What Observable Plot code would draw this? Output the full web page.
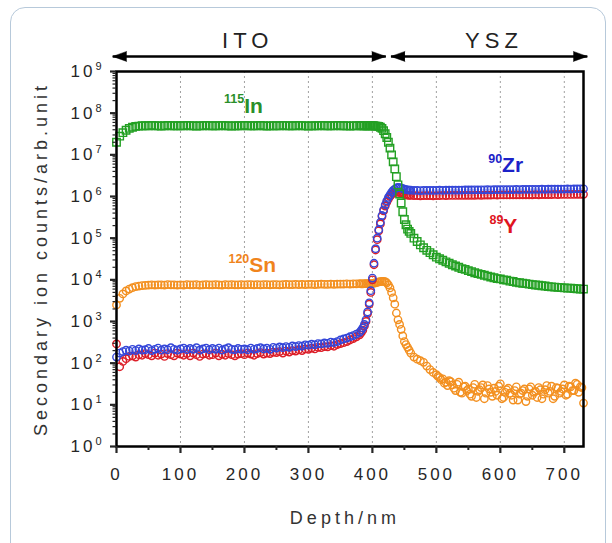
<!DOCTYPE html>
<html><head><meta charset="utf-8">
<script src="https://cdn.jsdelivr.net/npm/d3@7"></script>
<script src="https://cdn.jsdelivr.net/npm/@observablehq/plot@0.6"></script>
<style>
html,body{margin:0;padding:0;background:#fff;}
#wrap{position:relative;width:612px;height:543px;overflow:hidden;background:#fff;}
#border{position:absolute;left:10px;top:7px;width:596px;height:560px;border:1.5px solid #b7c9da;border-radius:15px;box-sizing:border-box;}
#chart{position:absolute;left:0;top:0;}
#chart svg text{letter-spacing:3px;}
</style></head><body>
<div id="wrap"><div id="border"></div><div id="chart"></div></div>
<script>
// ---- data ----
const depth = [
  0,5,10,15,20,25,30,35,40,45,
  50,55,60,65,70,75,80,85,90,95,
  100,105,110,115,120,125,130,135,140,145,
  150,155,160,165,170,175,180,185,190,195,
  200,205,210,215,220,225,230,235,240,245,
  250,255,260,265,270,275,280,285,290,295,
  300,305,310,315,320,325,330,335,340,345,
  350,355,360,365,370,375,
  380,382.5,385,387.5,390,392.5,395,397.5,400,402.5,
  405,407.5,410,412.5,415,417.5,420,422.5,425,427.5,
  430,432.5,435,437.5,440,442.5,445,447.5,450,452.5,
  455,457.5,460,
  465,470,475,480,485,490,495,
  500,505,510,515,520,525,530,535,540,545,
  550,555,560,565,570,575,580,585,590,595,
  600,605,610,615,620,625,630,635,640,645,
  650,655,660,665,670,675,680,685,690,695,
  700,705,710,715,720,725,730
];
const in115 = [
  2.0e7,2.8e7,3.4e7,3.9e7,4.3e7,4.6e7,4.8e7,4.9e7,5.0e7,5.0e7,
  5.0e7,5.1e7,5.0e7,5.0e7,4.9e7,5.0e7,5.1e7,5.0e7,5.0e7,5.0e7,
  5.0e7,5.0e7,5.1e7,5.0e7,5.0e7,4.9e7,5.0e7,5.0e7,5.1e7,5.0e7,
  5.0e7,5.0e7,5.0e7,5.1e7,5.0e7,5.0e7,4.9e7,5.0e7,5.0e7,5.0e7,
  5.1e7,5.0e7,5.0e7,5.0e7,5.0e7,5.1e7,5.0e7,4.9e7,5.0e7,5.0e7,
  5.0e7,5.0e7,5.1e7,5.0e7,5.0e7,5.0e7,5.0e7,5.1e7,5.0e7,5.0e7,
  4.9e7,5.0e7,5.0e7,5.0e7,5.1e7,5.0e7,5.0e7,5.0e7,5.0e7,5.1e7,
  5.0e7,5.0e7,5.0e7,4.9e7,5.0e7,5.0e7,
  5.1e7,5.0e7,5.0e7,5.0e7,5.0e7,5.0e7,5.0e7,5.0e7,5.0e7,5.0e7,
  4.9e7,4.9e7,4.8e7,4.6e7,4.3e7,3.8e7,3.2e7,2.6e7,2.0e7,1.45e7,
  1.0e7,6.8e6,4.6e6,3.0e6,1.9e6,1.15e6,7.0e5,4.3e5,2.8e5,2.1e5,
  1.65e5,1.45e5,1.3e5,
  1.0e5,8.3e4,6.9e4,5.9e4,5.1e4,4.5e4,4.0e4,
  3.5e4,3.2e4,2.95e4,2.7e4,2.5e4,2.3e4,2.15e4,2.0e4,1.86e4,1.78e4,
  1.66e4,1.58e4,1.48e4,1.41e4,1.35e4,1.29e4,1.23e4,1.17e4,1.12e4,1.07e4,
  1.05e4,1.0e4,9.8e3,9.3e3,9.1e3,8.7e3,8.5e3,8.3e3,8.1e3,7.9e3,
  7.7e3,7.5e3,7.4e3,7.2e3,7.1e3,6.9e3,6.8e3,6.7e3,6.6e3,6.5e3,
  6.4e3,6.3e3,6.3e3,6.2e3,6.1e3,6.0e3,6.0e3
];
const sn120 = [
  2.5e3,3.6e3,4.6e3,5.4e3,6.0e3,6.5e3,6.9e3,7.1e3,7.3e3,7.4e3,
  7.5e3,7.6e3,7.5e3,7.6e3,7.6e3,7.5e3,7.7e3,7.6e3,7.6e3,7.5e3,
  7.6e3,7.5e3,7.7e3,7.6e3,7.6e3,7.7e3,7.5e3,7.6e3,7.7e3,7.6e3,
  7.6e3,7.7e3,7.6e3,7.5e3,7.7e3,7.6e3,7.7e3,7.6e3,7.6e3,7.7e3,
  7.6e3,7.7e3,7.7e3,7.6e3,7.7e3,7.6e3,7.7e3,7.7e3,7.6e3,7.7e3,
  7.7e3,7.6e3,7.7e3,7.8e3,7.7e3,7.7e3,7.8e3,7.7e3,7.8e3,7.7e3,
  7.8e3,7.8e3,7.7e3,7.8e3,7.9e3,7.8e3,7.8e3,7.9e3,7.8e3,7.9e3,
  7.9e3,7.9e3,8.0e3,7.9e3,8.0e3,8.0e3,
  8.1e3,8.0e3,8.0e3,8.1e3,8.1e3,8.1e3,8.1e3,8.1e3,8.1e3,8.3e3,
  8.5e3,8.7e3,8.9e3,9.1e3,9.2e3,9.2e3,9.0e3,8.5e3,7.6e3,6.4e3,
  5.0e3,3.7e3,2.6e3,1.6e3,1.1e3,850,650,450,330,280,
  240,205,175,
  140,125,115,105,85,70,60,
  53,45,42,35,38,30,22,35,19,28,
  24,16,31,21,26,14,29,20,25,17,
  32,15,23,19,13,27,18,22,12,24,
  17,21,26,14,23,19,28,16,25,21,
  30,18,27,22,31,27,11
];
// extra Sn points read between the grid above, in the noisy YSZ tail
const snTailDepth = [
  502.5,507.5,512.5,517.5,522.5,527.5,532.5,537.5,542.5,547.5,
  552.5,557.5,562.5,567.5,572.5,577.5,582.5,587.5,592.5,597.5,
  602.5,607.5,612.5,617.5,622.5,627.5,632.5,637.5,642.5,647.5,
  652.5,657.5,662.5,667.5,672.5,677.5,682.5,687.5,692.5,697.5,
  702.5,707.5,712.5,717.5,722.5,727.5
];
const snTail = [
  48,40,33,29,36,25,31,20,27,22,
  18,26,15,23,30,19,24,16,21,28,
  14,20,25,17,22,13,19,24,16,27,
  20,15,23,18,29,21,14,26,19,24,
  17,28,22,33,20,26
];
const zr90 = [
  140,175,190,205,195,215,200,220,205,210,
  225,200,215,230,205,220,210,235,215,205,
  220,230,210,225,215,235,205,220,230,210,
  225,215,230,205,220,235,215,210,225,215,
  220,210,230,215,225,235,220,230,215,240,
  230,245,235,250,240,260,250,265,255,275,
  270,285,275,295,290,305,300,320,310,330,
  360,380,400,430,460,500,
  550,610,700,850,1.1e3,1.7e3,2.8e3,5.5e3,1.1e4,2.5e4,
  5.6e4,1.0e5,1.6e5,2.4e5,3.5e5,4.8e5,6.3e5,7.9e5,9.5e5,1.1e6,
  1.26e6,1.4e6,1.5e6,1.6e6,1.66e6,1.64e6,1.6e6,1.55e6,1.5e6,1.47e6,
  1.45e6,1.43e6,1.42e6,
  1.4e6,1.4e6,1.39e6,1.4e6,1.4e6,1.41e6,1.4e6,
  1.41e6,1.42e6,1.41e6,1.42e6,1.42e6,1.43e6,1.42e6,1.43e6,1.43e6,1.44e6,
  1.44e6,1.44e6,1.45e6,1.44e6,1.45e6,1.45e6,1.46e6,1.45e6,1.46e6,1.46e6,
  1.46e6,1.47e6,1.46e6,1.47e6,1.47e6,1.48e6,1.47e6,1.48e6,1.48e6,1.49e6,
  1.49e6,1.48e6,1.49e6,1.5e6,1.49e6,1.5e6,1.5e6,1.51e6,1.5e6,1.51e6,
  1.51e6,1.52e6,1.51e6,1.52e6,1.52e6,1.53e6,1.53e6
];
const y89 = [
  290,82,110,128,145,150,140,160,155,170,
  160,150,175,155,165,145,170,160,150,175,
  165,155,170,150,175,160,145,165,170,155,
  160,175,150,165,155,170,160,150,165,170,
  160,175,165,155,170,180,165,175,170,185,
  180,190,175,195,185,200,195,210,200,220,
  215,230,220,240,235,250,245,265,255,280,
  295,310,330,360,390,430,
  480,540,620,780,1.0e3,1.55e3,2.6e3,5.0e3,1.0e4,2.3e4,
  5.2e4,9.2e4,1.5e5,2.2e5,3.3e5,4.5e5,5.9e5,7.3e5,8.7e5,1.0e6,
  1.12e6,1.2e6,1.25e6,1.27e6,1.28e6,1.25e6,1.2e6,1.16e6,1.12e6,1.1e6,
  1.08e6,1.07e6,1.06e6,
  1.05e6,1.05e6,1.04e6,1.05e6,1.05e6,1.05e6,1.04e6,
  1.05e6,1.05e6,1.06e6,1.05e6,1.06e6,1.06e6,1.06e6,1.07e6,1.06e6,1.07e6,
  1.07e6,1.07e6,1.07e6,1.08e6,1.07e6,1.08e6,1.08e6,1.08e6,1.09e6,1.08e6,
  1.09e6,1.09e6,1.09e6,1.09e6,1.1e6,1.09e6,1.1e6,1.1e6,1.1e6,1.1e6,
  1.1e6,1.11e6,1.1e6,1.11e6,1.11e6,1.11e6,1.11e6,1.12e6,1.11e6,1.12e6,
  1.12e6,1.12e6,1.12e6,1.12e6,1.13e6,1.13e6,1.13e6
];
// axis ticks and labels
const xTicks = [0,100,200,300,400,500,600,700];
const xMinorTicks = [50,150,250,350,450,550,650];
const gridDepths = [100,200,300,400,500,600,700];
const yTicks = [1,1e1,1e2,1e3,1e4,1e5,1e6,1e7,1e8,1e9];
const speciesText = ["{115}In","{120}Sn","{90}Zr","{89}Y"];
const speciesColor = ["#2a8f2a","#f0841c","#1c22c8","#e0141e"];
const regionNames = ["ITO","YSZ"];
const xTitle = "Depth/nm";
const yTitle = "Secondary ion counts/arb.unit";

// ---- layout (annotation placement) ----
const speciesPos = [[168,1.5e8],[175,2.2e4],[581,5.5e6],[583,1.9e5]];
const regionSpan = [[-6,421,205],[429,736,590]];
const arrowY = 2.3e9, regionLabelY = 5.5e9;

const rows = (xs, vals) => xs.map((d,i) => ({depth:d, value:vals[i]}));
const yMinor = [];
for (let k = 0; k < 9; k++) for (let m = 2; m < 10; m++) yMinor.push(m * Math.pow(10,k));
const labels = speciesText.map((t,i) => ({text:t, color:speciesColor[i], x:speciesPos[i][0], y:speciesPos[i][1]}));
const regions = regionNames.map((n,i) => ({name:n, x1:regionSpan[i][0], x2:regionSpan[i][1], lx:regionSpan[i][2]}));
const heads = regions.flatMap(r => [{x:r.x1, dir:-90},{x:r.x2, dir:90}]);

const dotOpts = (stroke, symbol, r) => ({x:"depth", y:"value", symbol, r, stroke, strokeWidth:1.4, fill:"none"});

const chart = Plot.plot({
  width: 612, height: 543,
  marginTop: 71, marginRight: 29, marginBottom: 97, marginLeft: 116,
  x: {domain:[0,730], label:null},
  y: {type:"log", domain:[1,1e9], label:null},
  style: {fontFamily:"'Liberation Sans', Arial, sans-serif", fontSize:"17px", color:"#262626", background:"transparent", overflow:"visible"},
  marks: [
    Plot.ruleX(gridDepths, {stroke:"#a0a0a0", strokeWidth:1, strokeDasharray:"2,3"}),
    Plot.dot(rows(depth, sn120).concat(rows(snTailDepth, snTail)), dotOpts("#f39020","circle",3.7)),
    Plot.dot(rows(depth, y89), dotOpts("#dc1e28","circle",3.7)),
    Plot.dot(rows(depth, zr90), dotOpts("#3446d8","circle",3.7)),
    Plot.dot(rows(depth, in115), dotOpts("#23a023","square",4.2)),
    Plot.frame({stroke:"#000", strokeWidth:2.5}),
    Plot.axisX({ticks:xTicks, tickSize:7, tickPadding:14, strokeWidth:2.2, label:null, tickFormat:d=>String(d)}),
    Plot.axisX({ticks:xMinorTicks, tickSize:4, strokeWidth:2, label:null, tickFormat:()=>""}),
    Plot.axisY({ticks:yTicks, tickSize:6, tickPadding:6, strokeWidth:2.2, label:null, tickFormat:d=>`10{${Math.round(Math.log10(d))}}`}),
    Plot.axisY({ticks:yMinor, tickSize:3.5, strokeWidth:1.2, label:null, tickFormat:()=>""}),
    Plot.text(labels, {x:"x", y:"y", text:"text", fill:"color", textAnchor:"start", fontSize:21, fontWeight:"bold"}),
    Plot.link(regions, {x1:"x1", x2:"x2", y1:()=>arrowY, y2:()=>arrowY, stroke:"#000", strokeWidth:2.5}),
    Plot.vector(heads, {x:"x", y:()=>arrowY, rotate:"dir", length:14, r:5, shape:"spike", anchor:"end", fill:"#000", stroke:"#000", strokeWidth:0.5}),
    Plot.text(regions, {x:"lx", y:()=>regionLabelY, text:"name", fontSize:22, fill:"#222"}),
    Plot.text([xTitle], {x:()=>357, frameAnchor:"bottom", dy:77, fontSize:18, fill:"#333"}),
    Plot.text([yTitle], {frameAnchor:"left", textAnchor:"middle", dx:-75, rotate:-90, fontSize:18, fill:"#333"})
  ]
});
document.getElementById("chart").appendChild(chart);

// superscripts: "{sup}" segments become raised tspans
const NS = "http://www.w3.org/2000/svg";
function rich(el, supSize, shift) {
  const s = el.textContent;
  el.textContent = "";
  const re = /\{([^}]*)\}|([^{}]+)/g;
  let m, raised = false;
  while ((m = re.exec(s))) {
    const t = document.createElementNS(NS, "tspan");
    if (m[1] !== undefined) {
      t.textContent = m[1];
      t.setAttribute("font-size", supSize);
      if (!raised) { t.setAttribute("dy", -shift); raised = true; }
    } else {
      t.textContent = m[2];
      if (raised) { t.setAttribute("dy", shift); raised = false; }
    }
    el.appendChild(t);
  }
}
chart.querySelectorAll("text").forEach(el => {
  const s = el.textContent;
  if (/^10\{\d\}$/.test(s)) rich(el, 11, 7);
  else if (s.startsWith("{")) { rich(el, 12.5, 9.5); el.style.letterSpacing = "0px"; }
  else if (regionNames.includes(s)) el.style.letterSpacing = "5px";
  else if (s === xTitle || s === yTitle) el.style.letterSpacing = "4px";
});
</script>
</body></html>
